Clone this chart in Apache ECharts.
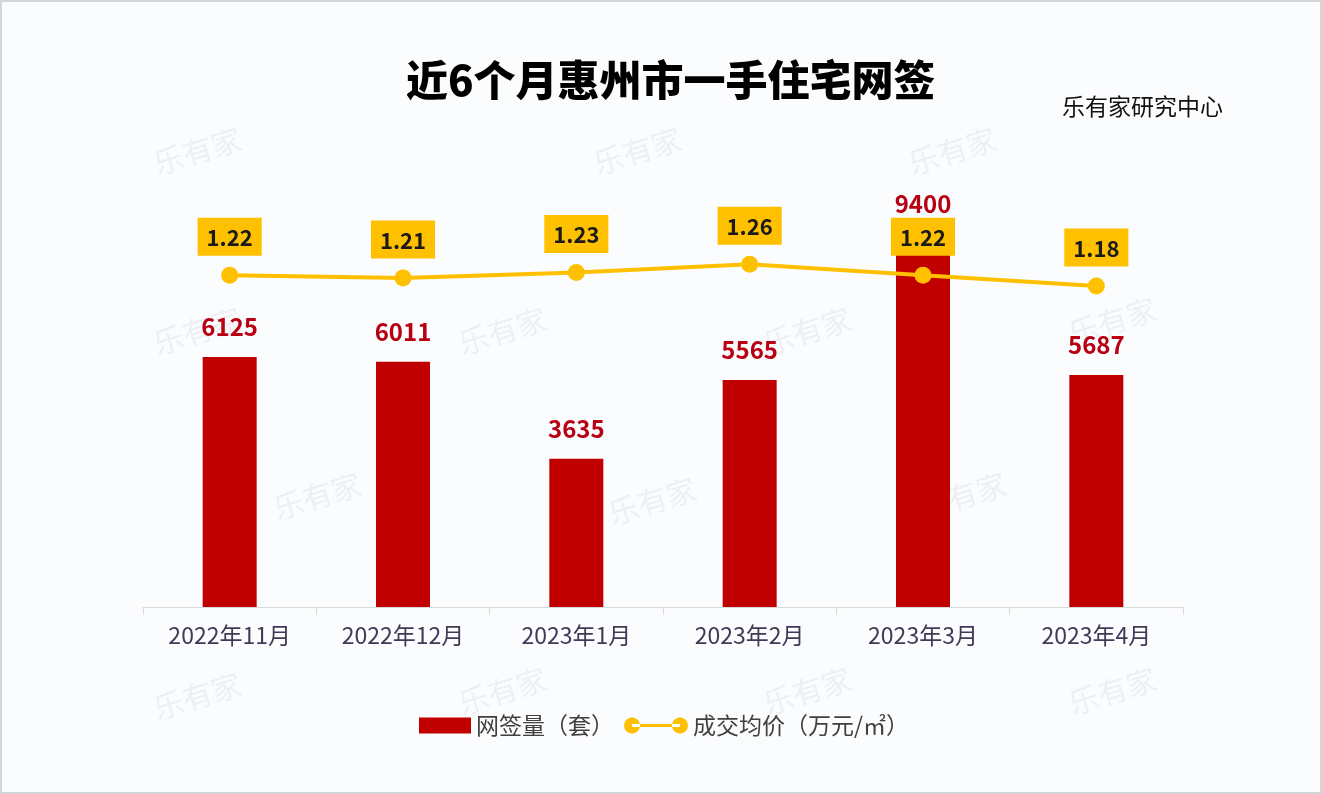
<!DOCTYPE html>
<html><head><meta charset="utf-8">
<script src="https://cdn.jsdelivr.net/npm/echarts@6/dist/echarts.min.js"></script>
<style>html,body{margin:0;padding:0;background:#fff}#c{width:1322px;height:794px}</style>
</head><body><div id="c"></div>
<script>
const categories = ['2022年11月','2022年12月','2023年1月','2023年2月','2023年3月','2023年4月'];
const volume = [6125, 6011, 3635, 5565, 9400, 5687];
const price = [1.22, 1.21, 1.23, 1.26, 1.22, 1.18];
const volumeName = '网签量（套）';
const priceName = '成交均价（万元/㎡）';

const FONT = '"Noto Sans CJK SC","Noto Sans",sans-serif';
const chart = echarts.init(document.getElementById('c'), null, {renderer:'canvas'});
const wm = [[150,150],[590,150],[905,150],[150,330],[455,330],[760,330],[1065,320],[270,495],[605,500],[915,495],[150,695],[455,690],[760,690],[1065,690]];
const graphics = [
  {type:'rect', left:0, top:0, shape:{width:1320,height:792}, style:{fill:'#fbfcfe', stroke:'#d4d6da', lineWidth:2}, z:-10},
  {type:'text', left:406, top:59, style:{text:'近6个月惠州市一手住宅网签', font:'900 42px '+FONT, fill:'#000'}},
  {type:'text', left:1062, top:95, style:{text:'乐有家研究中心', font:'23px '+FONT, fill:'#111'}}
];
wm.forEach(p=>graphics.push({type:'text', x:p[0], y:p[1], rotation:0.3, style:{text:'乐有家', font:'30px '+FONT, fill:'rgba(150,150,160,0.12)'}, z:-5}));

// the tallest bar's label sits closer to its bar in the reference
const barData = volume.map((v, i) => i === 4 ? {value: v, label: {distance: 8}} : v);

chart.setOption({
  backgroundColor:'transparent',
  graphic: graphics,
  grid:{left:143, right:139, top:199, bottom:187, containLabel:false},
  legend:[
    {data:[{name:volumeName, icon:'rect'}], left:414, top:709, itemWidth:52, itemHeight:16, itemGap:8,
     textStyle:{fontSize:23, color:'#404040', fontFamily:FONT}},
    {data:[{name:priceName, icon:'path://M0,8a8,8 0 1,0 16,0a8,8 0 1,0 -16,0Z M48,8a8,8 0 1,0 16,0a8,8 0 1,0 -16,0Z M8,6.5H56V9.5H8Z'}], left:619, top:709, itemWidth:64, itemHeight:16, itemGap:6,
     textStyle:{fontSize:23, color:'#404040', fontFamily:FONT}}
  ],
  xAxis:{type:'category', data:categories,
    axisLine:{lineStyle:{color:'#d9d9d9', width:1}},
    axisTick:{show:true, length:8, lineStyle:{color:'#d9d9d9'}},
    axisLabel:{fontSize:23, color:'#3f3a55', margin:17, fontFamily:FONT}},
  yAxis:[
    {type:'value', min:0, max:10000, show:false, splitLine:{show:false}},
    {type:'value', min:0, max:1.5, show:false, splitLine:{show:false}}
  ],
  series:[
    {name:volumeName, type:'bar', data:barData, barWidth:54, yAxisIndex:0,
     itemStyle:{color:'#c00000'},
     label:{show:true, position:'top', distance:18, fontSize:24, fontWeight:'bold', color:'#b80012', fontFamily:FONT}},
    {name:priceName, type:'line', data:price, yAxisIndex:1, symbol:'circle', symbolSize:17,
     lineStyle:{color:'#ffc000', width:4}, itemStyle:{color:'#ffc000'},
     label:{show:true, position:'top', distance:11, fontSize:22, fontWeight:'bold', color:'#1a1a1a', fontFamily:FONT,
       backgroundColor:'#ffc000', padding:[9,9,7,9], formatter:p=>p.value.toFixed(2)}, z:5}
  ]
});
</script></body></html>
